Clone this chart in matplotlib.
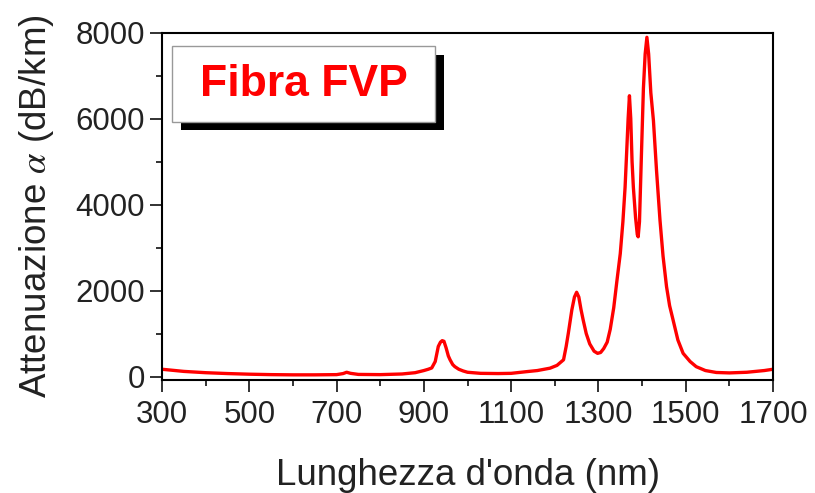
import matplotlib
matplotlib.use("Agg")
import matplotlib.pyplot as plt
from matplotlib.patches import Rectangle
from matplotlib.ticker import MultipleLocator

wavelength = [300, 350, 400, 450, 500, 550, 600, 650, 700, 715, 723, 732, 750, 800, 850, 880,
              900, 910, 918, 926, 933, 938, 942, 946, 951, 956, 960, 966, 971, 980, 990, 1000,
              1030, 1070, 1100, 1136, 1160, 1189, 1205, 1220, 1226, 1231, 1239, 1245, 1250,
              1255, 1260, 1265, 1272, 1280, 1290, 1298, 1305, 1312, 1320, 1327, 1335, 1342,
              1350, 1356, 1361, 1365, 1368, 1371, 1374, 1377, 1380, 1385, 1389, 1391, 1394,
              1398, 1403, 1407, 1411, 1415, 1420, 1426, 1433, 1441, 1448, 1456, 1463, 1471,
              1482, 1494, 1510, 1524, 1545, 1570, 1600, 1640, 1680, 1700]
attenuation = [170, 120, 90, 70, 55, 45, 40, 40, 45, 70, 100, 75, 50, 45, 60, 90,
               140, 170, 200, 350, 700, 800, 835, 820, 665, 480, 390, 280, 230, 170, 130, 100,
               75, 70, 75, 115, 140, 195, 260, 390, 700, 1010, 1550, 1850, 1960,
               1850, 1560, 1315, 1000, 760, 590, 540, 560, 650, 800, 1100, 1600, 2200,
               2860, 3600, 4400, 5300, 6000, 6530, 6000, 5000, 4400, 3700, 3300, 3250, 3600,
               5000, 6700, 7500, 7890, 7500, 6600, 5950, 4800, 3635, 2800, 2090, 1650, 1315,
               850, 540, 350, 230, 140, 95, 85, 100, 140, 170]

xlabel = "Lunghezza d'onda (nm)"
ylabel = "Attenuazione $\\alpha$ (dB/km)"
title_box = "Fibra FVP"

plt.rcParams['font.family'] = ['Liberation Sans', 'DejaVu Sans']
plt.rcParams['mathtext.fontset'] = 'stix'

fig = plt.figure(figsize=(8.15, 4.93), dpi=100)
ax = fig.add_axes([0.1988, 0.2292, 0.7497, 0.7048])
ax.plot(wavelength, attenuation, color='#ff0000', lw=2.4, solid_joinstyle='round',
        solid_capstyle='round')
ax.set_xlim(300, 1700)
ax.set_ylim(-80, 8000)
ax.set_xticks(range(300, 1701, 200))
ax.set_yticks(range(0, 8001, 2000))
ax.xaxis.set_minor_locator(MultipleLocator(100))
ax.yaxis.set_minor_locator(MultipleLocator(1000))
ax.tick_params(which='major', direction='out', length=8.5, width=1.3, labelsize=22.5,
               colors='#222222', pad=4)
ax.tick_params(axis='x', which='major', pad=6)
ax.tick_params(which='minor', direction='out', length=4, width=1.3, colors='#222222')
for s in ax.spines.values():
    s.set_linewidth(1.5)
ax.set_xlabel(xlabel, fontsize=26.5, color='#222222', labelpad=20)
ax.set_ylabel(ylabel, fontsize=26.5, color='#222222', labelpad=14)

# label box with shadow (figure pixel coords)
W, H = 815, 493
def fig_rect(x0, y0, x1, y1, **kw):
    return Rectangle((x0 / W, 1 - y1 / H), (x1 - x0) / W, (y1 - y0) / H,
                     transform=fig.transFigure, **kw)
fig.patches.append(fig_rect(181, 55, 444, 130, facecolor='black', edgecolor='none', zorder=5))
fig.patches.append(fig_rect(172, 46, 435, 121.5, facecolor='white', edgecolor='#999999',
                            lw=1, zorder=6))
fig.text(304 / W, 1 - 84 / H, title_box, color='#ff0000', fontsize=32,
         fontweight='bold', ha='center', va='center', zorder=7)

fig.savefig('out.png', dpi=100)
